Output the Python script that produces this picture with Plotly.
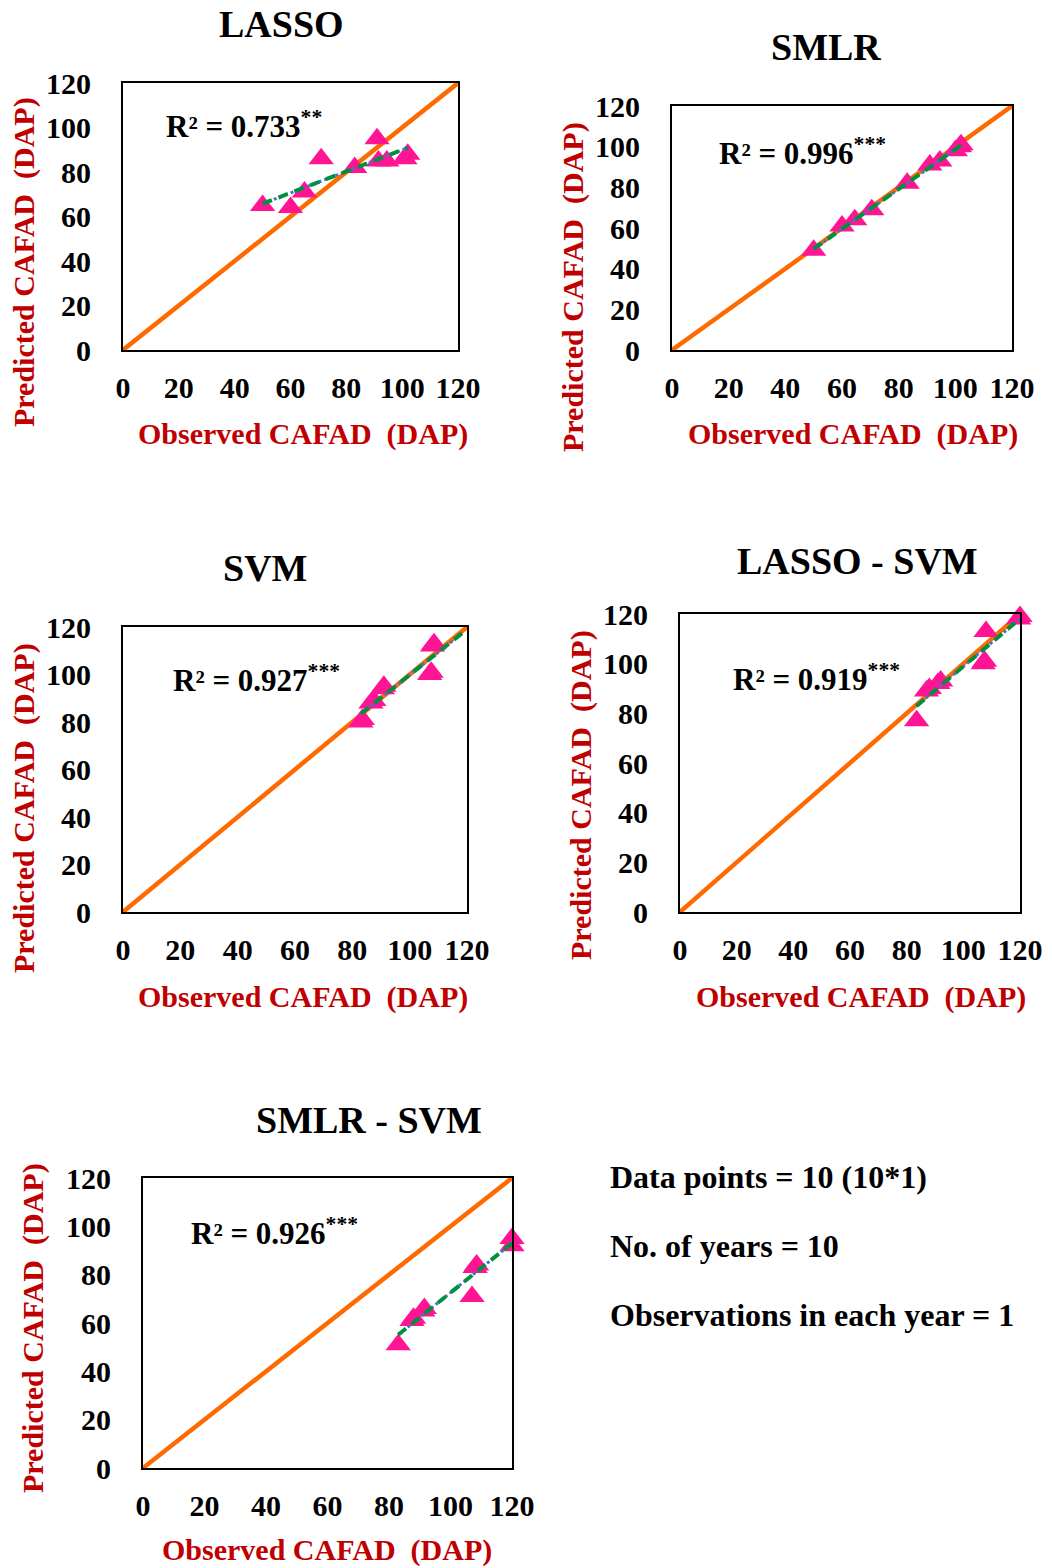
import numpy as np
import plotly.graph_objects as go

W, H = 1052, 1568

# ---------------- data ----------------
titles = ["LASSO", "SMLR", "SVM", "LASSO - SVM", "SMLR - SVM"]
r2_labels = ["0.733", "0.996", "0.927", "0.919", "0.926"]
r2_stars = ["**", "***", "***", "***", "***"]

obs_lasso = [50, 60, 65, 71, 83, 91, 91.5, 94.5, 101, 102]
pred_lasso = [65, 64, 71, 86, 82, 95, 85, 85, 86, 88]

obs_smlr = [50, 60, 64.5, 70.5, 83, 91, 94.5, 100, 101.5, 102]
pred_smlr = [49, 61, 64, 69, 82, 91, 93, 98, 100, 101]

obs_svm = [83, 83.5, 86.5, 87.5, 90.5, 91, 107, 107.5, 108, 108.5]
pred_svm = [80, 81, 88, 89, 94, 95, 100, 101, 112, 113]

obs_lasso_svm = [83.5, 87, 88, 91, 92, 107, 107.5, 108, 119.5, 120]
pred_lasso_svm = [77, 89, 90, 92, 93, 100, 101, 113, 118, 119]

obs_smlr_svm = [83, 87.5, 88, 91, 91.5, 107, 108, 108.5, 120, 120]
pred_smlr_svm = [51, 61, 62, 65, 66, 71, 83, 84, 95, 92]

trend_ranges = [[50, 102], [50, 102], [83, 119], [83.5, 120], [83, 120]]

axis_ticks = [0, 20, 40, 60, 80, 100, 120]
info_lines = ["Data points = 10 (10*1)", "No. of years = 10", "Observations in each year = 1"]

x_title = "Observed CAFAD  (DAP)"
y_title = "Predicted CAFAD  (DAP)"

# ---------------- layout (pixels) ----------------
obs_all = [obs_lasso, obs_smlr, obs_svm, obs_lasso_svm, obs_smlr_svm]
pred_all = [pred_lasso, pred_smlr, pred_svm, pred_lasso_svm, pred_smlr_svm]

# plot-area boxes: x0, x1, ytop, ybottom (pixels)
boxes = [(123, 458, 83, 350), (672, 1012, 106, 350), (123, 467, 627, 912),
         (680, 1020, 614, 912), (143, 512, 1178, 1468)]
title_pos = [(281, 24), (826, 47), (265, 568), (857, 561), (369, 1120)]
r2_pos = [(165, 124), (718, 152), (172, 678), (732, 677), (190, 1231)]
xt_pos = [(303, 434), (853, 434), (303, 997), (861, 997), (327, 1550)]
yt_pos = [(24, 262), (573, 287), (24, 808), (581, 795), (33, 1328)]

def px(x):
    return x / W

def py(y):
    return 1 - y / H

fig = go.Figure()
FONT = "Liberation Serif"
RED = "#C00000"

annotations = []
for i in range(5):
    ax = "" if i == 0 else str(i + 1)
    xa, ya = "x" + ax, "y" + ax
    x0, x1, yt, yb = boxes[i]
    fig.update_layout(**{
        "xaxis" + ax: dict(domain=[px(x0), px(x1)], range=[0, 120], tickvals=axis_ticks,
                           showgrid=False, zeroline=False, showline=True, mirror=True,
                           linecolor="black", linewidth=2, ticks="", anchor=ya,
                           ticklabelstandoff=10, automargin=False,
                           tickfont=dict(family=FONT, size=30, color="black", weight="bold")),
        "yaxis" + ax: dict(domain=[py(yb), py(yt)], range=[0, 120], tickvals=axis_ticks,
                           showgrid=False, zeroline=False, showline=True, mirror=True,
                           linecolor="black", linewidth=2, ticks="", anchor=xa,
                           ticklabelstandoff=24, automargin=False,
                           tickfont=dict(family=FONT, size=30, color="black", weight="bold")),
    })
    # 1:1 line
    fig.add_trace(go.Scatter(x=[0, 120], y=[0, 120], mode="lines", xaxis=xa, yaxis=ya,
                             line=dict(color="#FF6A00", width=4.5), showlegend=False,
                             cliponaxis=False))
    # points
    fig.add_trace(go.Scatter(x=obs_all[i], y=pred_all[i], mode="markers", xaxis=xa, yaxis=ya,
                             marker=dict(symbol="triangle-up", size=22, color="#FF1493"),
                             showlegend=False, cliponaxis=False))
    # trend line
    k, b = np.polyfit(obs_all[i], pred_all[i], 1)
    tx = np.array(trend_ranges[i], dtype=float)
    ty = k * tx + b
    fig.add_trace(go.Scatter(x=tx, y=ty, mode="lines", xaxis=xa, yaxis=ya,
                             line=dict(color="#4472C4", width=3, dash="dot"),
                             showlegend=False, cliponaxis=False))
    fig.add_trace(go.Scatter(x=tx, y=ty, mode="lines", xaxis=xa, yaxis=ya,
                             line=dict(color="#00913F", width=4, dash="10px,7px"),
                             showlegend=False, cliponaxis=False))

    annotations.append(dict(text=titles[i], x=px(title_pos[i][0]), y=py(title_pos[i][1]),
                            xref="paper", yref="paper", showarrow=False,
                            xanchor="center", yanchor="middle", borderpad=0,
                            font=dict(family=FONT, size=38, color="black", weight="bold")))
    annotations.append(dict(text="R² = " + r2_labels[i] + "<sup>" + r2_stars[i] + "</sup>",
                            x=px(r2_pos[i][0]), y=py(r2_pos[i][1]),
                            xref="paper", yref="paper", showarrow=False,
                            xanchor="left", yanchor="middle", borderpad=0,
                            font=dict(family=FONT, size=31, color="black", weight="bold")))
    annotations.append(dict(text=x_title, x=px(xt_pos[i][0]), y=py(xt_pos[i][1]),
                            xref="paper", yref="paper", showarrow=False,
                            xanchor="center", yanchor="middle", borderpad=0,
                            font=dict(family=FONT, size=30, color=RED, weight="bold")))
    annotations.append(dict(text=y_title, x=px(yt_pos[i][0]), y=py(yt_pos[i][1]),
                            xref="paper", yref="paper", showarrow=False, textangle=-90,
                            xanchor="center", yanchor="middle", borderpad=0,
                            font=dict(family=FONT, size=30, color=RED, weight="bold")))

info_y = [1177, 1246, 1315]
for line, yy in zip(info_lines, info_y):
    annotations.append(dict(text=line, x=px(609), y=py(yy), xref="paper", yref="paper",
                            showarrow=False, xanchor="left", yanchor="middle", borderpad=0,
                            font=dict(family=FONT, size=32, color="black", weight="bold")))

fig.update_layout(width=W, height=H,
                  margin=dict(l=0, r=0, t=0, b=0, pad=0, autoexpand=False),
                  paper_bgcolor="white", plot_bgcolor="white",
                  font=dict(family=FONT, size=30, color="black", weight="bold"),
                  annotations=annotations, showlegend=False)

fig.write_html("out.html")
